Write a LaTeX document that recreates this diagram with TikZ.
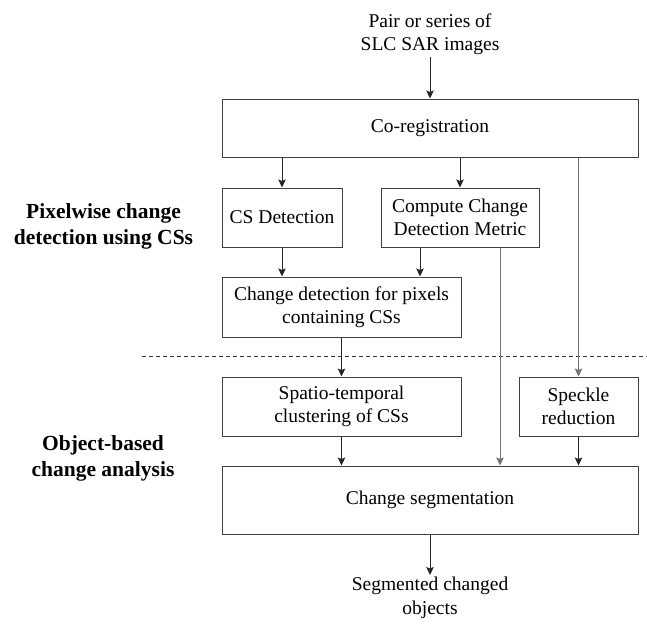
\documentclass[tikz,border=0pt]{standalone}
\usepackage{fontspec}
\setmainfont{Liberation Serif}
\usetikzlibrary{arrows.meta}

\begin{document}
\begin{tikzpicture}[x=1pt,y=-1pt,
  box/.style={draw=black!75,line width=1pt,inner sep=2pt,align=center,font=\fontsize{19.5}{23.5}\selectfont},
  txt/.style={inner sep=2pt,align=center,font=\fontsize{19.5}{23.5}\selectfont},
  flow/.style={draw=black!85,line width=1pt,-{Stealth[length=8pt,width=7.5pt,inset=1.5pt]}},
  feed/.style={flow,draw=black!55},
  phase/.style={align=center,font=\fontsize{21.5}{26}\selectfont\bfseries}]
\useasboundingbox (0,0) rectangle (647,624);

\node[txt,anchor=south] (input) at (430,57) {Pair or series of\\SLC SAR images};
\node[box,minimum width=416pt,minimum height=58pt] (coreg) at (430,128) {Co-registration};
\node[box,minimum width=120pt,minimum height=59pt] (csdet) at (282,217.5) {CS Detection};
\node[box,minimum width=158pt,minimum height=59pt] (metric) at (460,217.5) {Compute Change\\Detection Metric};
\node[box,minimum width=239pt,minimum height=60pt] (pixdet) at (341.5,307) {Change detection for pixels\\containing CSs};
\node[box,minimum width=239pt,minimum height=59pt] (cluster) at (341.5,406.5) {Spatio-temporal\\clustering of CSs};
\node[box,minimum width=119pt,minimum height=59pt] (speckle) at (578.5,406.5) {Speckle\\reduction};
\node[box,minimum width=416pt,minimum height=68pt] (chseg) at (430,500) {Change segmentation};
\node[txt,anchor=north] (output) at (430,575) {Segmented changed\\objects};

\node[phase] (pixphase) at (103.5,226) {Pixelwise change\\detection using CSs};
\node[phase] (objphase) at (103,458) {Object-based\\change analysis};

\draw[black!80,line width=0.8pt,dash pattern=on 4pt off 3pt] (142,356) -- (647,356);

\path[flow] (input) -- (coreg);
\path[flow] (csdet |- coreg.south) -- (csdet.north);
\path[flow] (metric |- coreg.south) -- (metric.north);
\path[feed] (speckle |- coreg.south) -- (speckle.north);
\path[flow] (csdet.south) -- (csdet.south |- pixdet.north);
\path[flow] ([xshift=-40pt]metric.south) -- ([xshift=-40pt]metric.south |- pixdet.north);
\path[feed] ([xshift=40pt]metric.south) -- ([xshift=40pt]metric.south |- chseg.north);
\path[flow] (pixdet) -- (cluster);
\path[flow] (cluster.south) -- (cluster.south |- chseg.north);
\path[flow] (speckle.south) -- (speckle.south |- chseg.north);
\path[flow] (chseg) -- (output);
\end{tikzpicture}
\end{document}
